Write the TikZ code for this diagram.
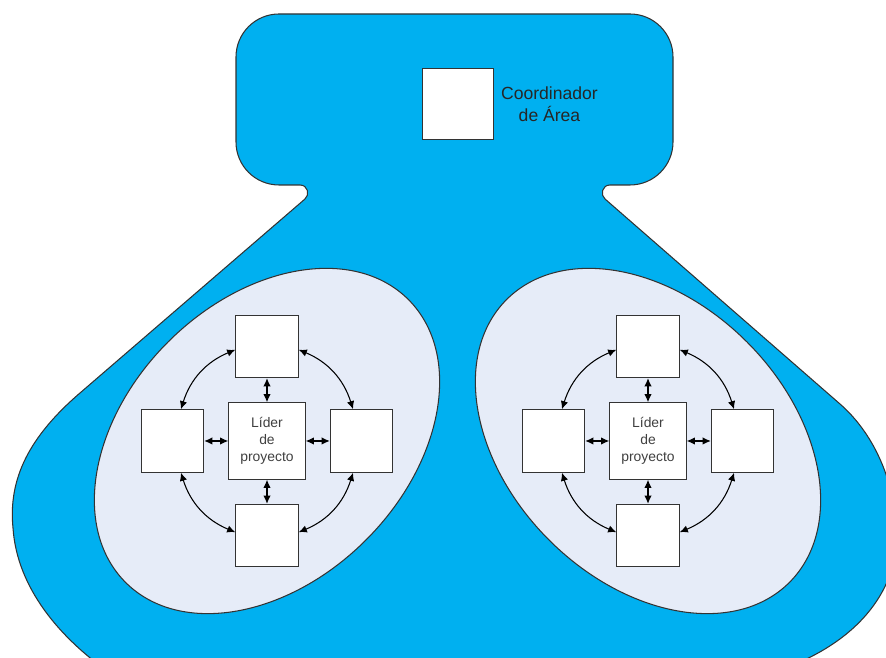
\documentclass[tikz,border=0pt]{standalone}
\usepackage{fontspec}
\setmainfont{Liberation Sans}
\usetikzlibrary{arrows.meta}
\usetikzlibrary{positioning}
\definecolor{areablue}{HTML}{00B0F0}
\definecolor{groupfill}{HTML}{E6ECF8}
\definecolor{rim}{HTML}{333333}
\tikzset{sq/.style = {draw = rim, fill = white, line width = 0.6pt, minimum size = 1.25cm, inner sep = 0}}
\tikzset{lider/.style = {sq, minimum size = 1.53cm, align = center, text = black!75,
                         font = \fontsize{7.9}{9.6}\selectfont}}
\tikzset{link/.style = {<->, >={Latex[length = 4.6pt, width = 4.2pt]}, line width = 0.6pt}}
\tikzset{group/.style = {draw = rim, fill = groupfill, line width = 0.6pt}}

\begin{document}
\begin{tikzpicture}[x = 0.02cm, y = 0.02cm, node distance = 0.48cm]
      \useasboundingbox (0, 0) rectangle (886, 658);
      \clip (0, 0) rectangle (886, 658);

      % area outline
      \draw [draw = rim, fill = areablue, line width = 0.6pt]
            (80, 265) -- (305, 459) .. controls (310, 463) and (308, 473) .. (300, 473)
            -- (279, 473) arc [start angle = 270, end angle = 180, radius = 43]
            -- (236, 601) arc [start angle = 180, end angle = 90, radius = 43]
            -- (630, 644) arc [start angle = 90, end angle = 0, radius = 43]
            -- (673, 516) arc [start angle = 0, end angle = -90, radius = 43]
            -- (610, 473) .. controls (602, 473) and (600, 463) .. (605, 459)
            -- (840, 254) .. controls (872, 226) and (893, 182) .. (897, 130)
            .. controls (900, 80) and (870, 20) .. (780, -12)
            -- (110, -15) .. controls (60, 20) and (17, 70) .. (13, 130)
            .. controls (8, 180) and (30, 222) .. (80, 265) -- cycle;

      \draw [group, rotate around = {45:(267, 217)}] (267, 217) ellipse (200 and 140);
      \draw [group, rotate around = {-45:(648, 217)}] (648, 217) ellipse (200 and 140);

      \node [sq, minimum size = 1.41cm] (CA) at (458, 554) {};
      \node [right = 4pt of CA, inner sep = 0, align = center, text = black!85,
             font = \fontsize{10}{12.5}\selectfont] (CAtext) {Coordinador\\de Área};

      \node [lider] (LC) at (267, 217) {Líder\\de\\proyecto};
      \node [sq, above = of LC] (LT) {};
      \node [sq, below = of LC] (LB) {};
      \node [sq, left = of LC] (LL) {};
      \node [sq, right = of LC] (LR) {};

      \node [lider] (RC) at (648, 217) {Líder\\de\\proyecto};
      \node [sq, above = of RC] (RT) {};
      \node [sq, below = of RC] (RB) {};
      \node [sq, left = of RC] (RL) {};
      \node [sq, right = of RC] (RR) {};

      \draw [link] (LT) -- (LC);
      \draw [link] (LL) -- (LC);
      \draw [link] (LR) -- (LC);
      \draw [link] (LB) -- (LC);
      \draw [link] (LT.186) to [bend right = 25] (LL.75);
      \draw [link] (LT.-6) to [bend left = 25] (LR.105);
      \draw [link] (LB.174) to [bend left = 25] (LL.-75);
      \draw [link] (LB.6) to [bend right = 25] (LR.-105);

      \draw [link] (RT) -- (RC);
      \draw [link] (RL) -- (RC);
      \draw [link] (RR) -- (RC);
      \draw [link] (RB) -- (RC);
      \draw [link] (RT.186) to [bend right = 25] (RL.75);
      \draw [link] (RT.-6) to [bend left = 25] (RR.105);
      \draw [link] (RB.174) to [bend left = 25] (RL.-75);
      \draw [link] (RB.6) to [bend right = 25] (RR.-105);
\end{tikzpicture}
\end{document}
